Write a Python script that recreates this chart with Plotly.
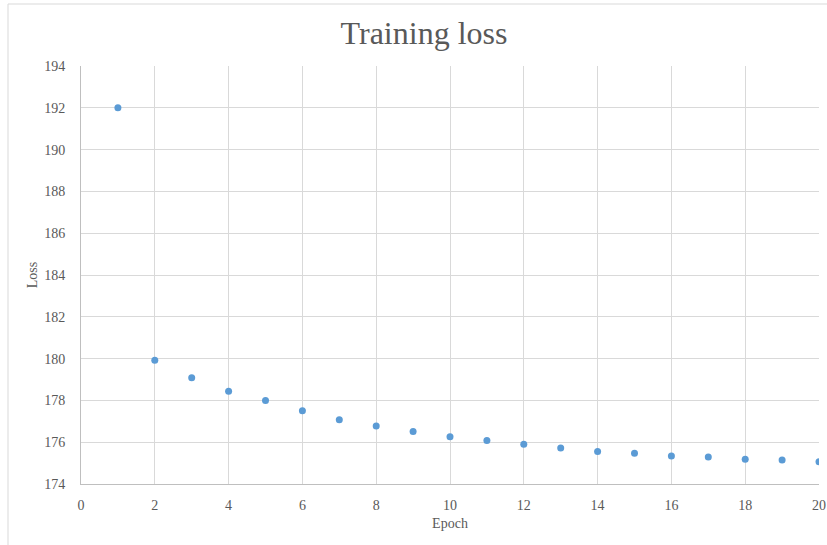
import plotly.graph_objects as go

epochs = list(range(1, 21))
loss = [192.0, 179.92, 179.08, 178.44, 178.0, 177.5, 177.07, 176.77, 176.51, 176.26,
        176.08, 175.9, 175.72, 175.55, 175.47, 175.34, 175.29, 175.18, 175.15, 175.07]

x_ticks = list(range(0, 21, 2))
y_ticks = list(range(174, 195, 2))

FONT = "Liberation Serif"
TXT = "#595959"

fig = go.Figure()
fig.add_trace(go.Scatter(
    x=epochs, y=loss, mode="markers",
    marker=dict(size=7, color="#5b9bd5"),
    showlegend=False,
))

fig.update_layout(
    width=827, height=545,
    margin=dict(l=81, r=8, t=66, b=61, autoexpand=False),
    paper_bgcolor="white", plot_bgcolor="white",
    font=dict(family=FONT, color=TXT, size=14),
    title=dict(text="Training loss", x=0.5127, xanchor="center", y=1 - 33 / 545, yanchor="middle",
               font=dict(family=FONT, size=32, color=TXT)),
    xaxis=dict(range=[0, 20], tickvals=x_ticks, showgrid=True, gridcolor="#d9d9d9", gridwidth=1,
               showline=True, linecolor="#bfbfbf", linewidth=1, mirror=False, zeroline=False,
               automargin=False,
               ticks="", ticklabelstandoff=8, tickfont=dict(size=14, color=TXT),
               title=dict(text="Epoch", font=dict(size=14, color=TXT), standoff=6)),
    yaxis=dict(range=[174, 194], tickvals=y_ticks, showgrid=True, gridcolor="#d9d9d9", gridwidth=1,
               showline=True, linecolor="#bfbfbf", linewidth=1, zeroline=False,
               automargin=False,
               ticks="", ticklabelstandoff=12, tickfont=dict(size=14, color=TXT),
               title=dict(text="Loss", font=dict(size=14, color=TXT), standoff=3)),
)

# chart area frame (visible on left and top only)
pw, ph = 827 - 81 - 8, 545 - 66 - 61
fig.add_shape(type="rect", xref="paper", yref="paper",
              x0=(8 - 81) / pw, x1=(840 - 81) / pw,
              y0=(484 - 560) / ph, y1=(484 - 4) / ph,
              line=dict(color="#d9d9d9", width=1), fillcolor="rgba(0,0,0,0)", layer="below")

fig.write_html("out.html", config={"displayModeBar": False},
               post_script="document.body.style.margin='0';document.body.style.overflow='hidden';")
